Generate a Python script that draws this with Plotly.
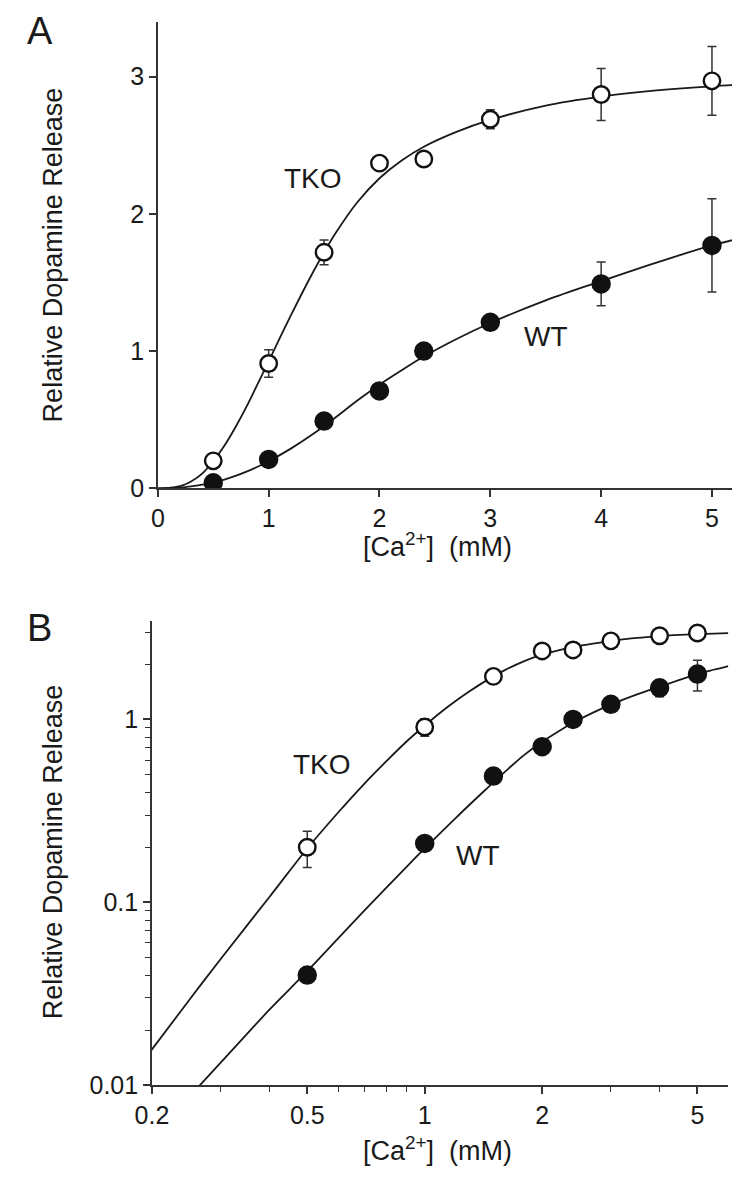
import plotly.graph_objects as go

# ---- data ----
CA = [0.5, 1.0, 1.5, 2.0, 2.4, 3.0, 4.0, 5.0]
TKO = [0.20, 0.91, 1.72, 2.37, 2.40, 2.69, 2.87, 2.97]
TKO_ERR = [0.045, 0.10, 0.09, 0.0, 0.0, 0.07, 0.19, 0.25]
WT = [0.04, 0.21, 0.49, 0.71, 1.00, 1.21, 1.49, 1.77]
WT_ERR = [0.0, 0.0, 0.0, 0.0, 0.0, 0.0, 0.16, 0.34]

# fitted curves
TKO_CURVE_X = [0, 0.1, 0.2, 0.25, 0.3, 0.4, 0.5, 0.6, 0.7, 0.8, 0.9, 1.0, 1.1, 1.2, 1.3,
               1.4, 1.5, 1.6, 1.8, 2.0, 2.2, 2.4, 2.7, 3.0, 3.5, 4.0, 4.5, 5.0, 5.5, 6.0]
TKO_CURVE_Y = [0, 0.0023, 0.0157, 0.0295, 0.049, 0.107, 0.197, 0.31, 0.445, 0.595, 0.76,
               0.925, 1.095, 1.26, 1.42, 1.575, 1.72, 1.855, 2.085, 2.26, 2.39, 2.49, 2.60,
               2.685, 2.79, 2.855, 2.90, 2.93, 2.95, 2.965]
WT_CURVE_X = [0, 0.1, 0.2, 0.25, 0.3, 0.35, 0.4, 0.5, 0.6, 0.7, 0.8, 0.9, 1.0, 1.2, 1.4,
              1.6, 1.8, 2.0, 2.2, 2.4, 2.7, 3.0, 3.5, 4.0, 4.5, 5.0, 5.5, 6.0]
WT_CURVE_Y = [0, 0.001, 0.0052, 0.0087, 0.0133, 0.019, 0.0259, 0.042, 0.0635, 0.09, 0.121,
              0.157, 0.197, 0.289, 0.395, 0.514, 0.64, 0.755, 0.86, 0.96, 1.09, 1.205, 1.37,
              1.51, 1.645, 1.77, 1.87, 1.96]

X_TICKS_A = [0, 1, 2, 3, 4, 5]
Y_TICKS_A = [0, 1, 2, 3]
X_TICKS_B = [0.2, 0.5, 1, 2, 5]
X_TICKTEXT_B = ["0.2", "0.5", "1", "2", "5"]
X_MINOR_B = [0.3, 0.4, 0.6, 0.7, 0.8, 0.9, 3, 4]
Y_TICKS_B = [0.01, 0.1, 1]
Y_TICKTEXT_B = ["0.01", "0.1", "1"]
Y_MINOR_B = [0.02, 0.03, 0.04, 0.05, 0.06, 0.07, 0.08, 0.09,
             0.2, 0.3, 0.4, 0.5, 0.6, 0.7, 0.8, 0.9, 2, 3]

# page is offset by the default 8px body margin
OFF = 8
W, H = 740 - OFF, 1199 - OFF
FONT = "Liberation Sans, Arial, Helvetica, sans-serif"
INK = "#1a1a1a"


def px(x):
    return (x - OFF) / W


def py(y):
    return 1 - (y - OFF) / H


fig = go.Figure()

# curves (drawn first, below markers)
for xs, ys in [(TKO_CURVE_X, TKO_CURVE_Y), (WT_CURVE_X, WT_CURVE_Y)]:
    fig.add_trace(go.Scatter(x=xs, y=ys, mode="lines", line=dict(color=INK, width=1.8, shape="spline"),
                             xaxis="x", yaxis="y", showlegend=False, hoverinfo="skip"))
    bx = [a for a, b in zip(xs, ys) if a > 0 and b > 0]
    by = [b for a, b in zip(xs, ys) if a > 0 and b > 0]
    fig.add_trace(go.Scatter(x=bx, y=by, mode="lines", line=dict(color=INK, width=1.8, shape="spline"),
                             xaxis="x2", yaxis="y2", showlegend=False, hoverinfo="skip"))

err_style = dict(type="data", visible=True, color="#333", thickness=1.5, width=4.5)

for ax, ay in [("x", "y"), ("x2", "y2")]:
    fig.add_trace(go.Scatter(x=CA, y=WT, mode="markers", xaxis=ax, yaxis=ay,
                             error_y=dict(array=WT_ERR, **err_style),
                             marker=dict(symbol="circle", size=18, color="#111",
                                         line=dict(color="#111", width=1.5)),
                             showlegend=False))
    fig.add_trace(go.Scatter(x=CA, y=TKO, mode="markers", xaxis=ax, yaxis=ay,
                             error_y=dict(array=TKO_ERR, **err_style),
                             marker=dict(symbol="circle", size=16.5, color="white",
                                         line=dict(color="#111", width=2.4)),
                             showlegend=False))

axis_common = dict(showline=True, linecolor="#333", linewidth=1.6, ticks="outside",
                   tickcolor="#333", tickwidth=1.5, ticklen=7, showgrid=False, zeroline=False,
                   tickfont=dict(family=FONT, size=25, color=INK), mirror=False)

fig.update_layout(
    width=W, height=H,
    margin=dict(l=0, r=0, t=0, b=0),
    paper_bgcolor="white", plot_bgcolor="white",
    font=dict(family=FONT, color=INK),
    xaxis=dict(domain=[px(144), px(734)], range=[0, 5.2], anchor="y",
               tickmode="array", tickvals=X_TICKS_A, **axis_common),
    yaxis=dict(domain=[py(494), py(22)], range=[0, 3.4], anchor="x",
               tickmode="array", tickvals=Y_TICKS_A, **axis_common),
    xaxis2=dict(domain=[px(138), px(728)], type="log", range=[-0.69897, 0.778], anchor="y2",
                tickmode="array", tickvals=X_TICKS_B, ticktext=X_TICKTEXT_B,
                minor=dict(tickmode="array", tickvals=X_MINOR_B, ticks="outside",
                           ticklen=5, tickcolor="#333", tickwidth=1.3),
                **axis_common),
    yaxis2=dict(domain=[py(1098), py(628)], type="log", range=[-2, 0.54], anchor="x2",
                tickmode="array", tickvals=Y_TICKS_B, ticktext=Y_TICKTEXT_B,
                minor=dict(tickmode="array", tickvals=Y_MINOR_B, ticks="outside",
                           ticklen=5, tickcolor="#333", tickwidth=1.3),
                **axis_common),
)

ann = []
TXT = dict(family=FONT, size=27, color=INK)
LBL = dict(family=FONT, size=28, color=INK)
ann.append(dict(x=0, y=1, text="A", xanchor="left", yanchor="top",
                font=dict(family=FONT, size=38, color=INK)))
ann.append(dict(x=0, y=py(612), text="B", xanchor="left", yanchor="top",
                font=dict(family=FONT, size=38, color=INK)))
ann.append(dict(x=px(303), y=py(181), text="TKO", font=LBL))
ann.append(dict(x=px(541), y=py(340), text="WT", font=LBL))
ann.append(dict(x=px(312), y=py(773), text="TKO", font=LBL))
ann.append(dict(x=px(472), y=py(866), text="WT", font=LBL))
xtitle = "[Ca<sup>2+</sup>]\u00a0\u00a0(mM)"
ann.append(dict(x=px(430), y=py(551), text=xtitle, font=TXT))
ann.append(dict(x=px(430), y=py(1163), text=xtitle, font=TXT))
ann.append(dict(x=px(37), y=py(258), text="Relative Dopamine Release", textangle=-90, font=TXT))
ann.append(dict(x=px(37), y=py(862), text="Relative Dopamine Release", textangle=-90, font=TXT))
for a in ann:
    a.setdefault("xanchor", "center")
    a.setdefault("yanchor", "middle")
    a.update(xref="paper", yref="paper", showarrow=False)
fig.update_layout(annotations=ann)

fig.write_html("out.html")
